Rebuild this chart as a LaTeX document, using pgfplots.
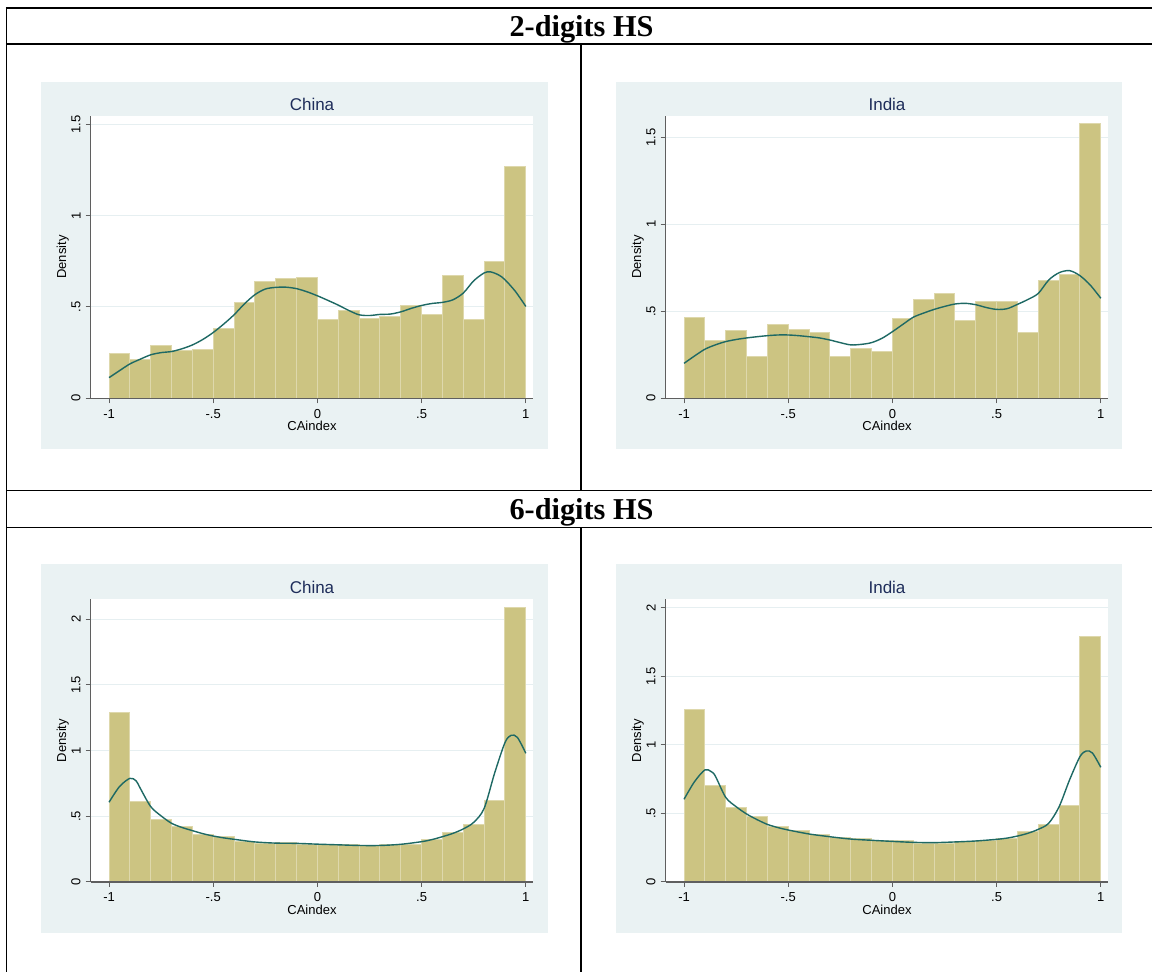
\documentclass[border=0pt]{standalone}
\usepackage{fontspec}
\setmainfont{Liberation Sans}
\newfontfamily\headfont{Liberation Serif}
\usepackage{pgfplots}
\pgfplotsset{compat=1.18}
\definecolor{bgc}{RGB}{234,242,243}
\definecolor{barc}{RGB}{204,196,130}
\definecolor{barl}{RGB}{222,216,172}
\definecolor{kdec}{RGB}{30,105,100}
\definecolor{axc}{RGB}{95,95,95}
\definecolor{gridc}{RGB}{230,239,241}
\definecolor{titc}{RGB}{30,45,90}
\pgfplotsset{
  geom/.style={scale only axis, anchor=south west, width=442.6pt,
    xmin=-1.088, xmax=1.036, ymin=0},
  datapanel/.style={geom, axis line style={draw=none}, xtick=\empty,
    major tick length=0pt, yticklabels={}, ymajorgrids,
    grid style={gridc, line width=1pt},
    axis background/.style={fill=white}},
  framepanel/.style={geom, axis x line*=bottom, axis y line*=left,
    axis line style={-, draw=axc, line width=1.2pt},
    tick align=outside, major tick length=5pt,
    tick style={axc, line width=1pt},
    xtick={-1,-0.5,0,0.5,1}, xticklabels={-1,-.5,0,.5,1},
    tick label style={font=\fontsize{13}{15}\selectfont, inner sep=0pt},
    xticklabel style={anchor=base, yshift=-15pt},
    yticklabel style={xshift=-5pt, rotate=90, anchor=south},
    xlabel={CAindex}, ylabel={Density},
    every axis x label/.style={at={([yshift=-32.5pt]axis description cs:0.5,0)},
      anchor=base, inner sep=0pt, font=\fontsize{13}{15}\selectfont},
    every axis y label/.style={at={([xshift=-24.7pt]axis description cs:0,0.5)},
      rotate=90, anchor=base, inner sep=0pt, font=\fontsize{13}{15}\selectfont},
    every axis title/.style={at={([yshift=5.6pt]axis description cs:0.5,1)},
      anchor=base, inner sep=0pt, text=titc, font=\fontsize{17}{20}\selectfont}},
  bars/.style={ybar interval, fill=barc, draw=barl, line width=1pt},
  kde/.style={smooth, kdec, line width=1.4pt, no marks},
}
\begin{document}
\begin{tikzpicture}
\path[use as bounding box] (0,0) rectangle (1152pt,972pt);
% table rules
\draw[line width=1.6pt] (5.8pt,964pt) -- (1152pt,964pt);
\draw[line width=1.6pt] (5.8pt,927.7pt) -- (1152pt,927.7pt);
\draw[line width=1.6pt] (5.8pt,481.3pt) -- (1152pt,481.3pt);
\draw[line width=1.6pt] (5.8pt,444.3pt) -- (1152pt,444.3pt);
\draw[line width=1.6pt] (6.6pt,964.8pt) -- (6.6pt,0pt);
\draw[line width=1.6pt] (581.2pt,927.7pt) -- (581.2pt,481.3pt);
\draw[line width=1.6pt] (581.2pt,444.3pt) -- (581.2pt,0pt);
\node[anchor=base, inner sep=0pt] at (581.5pt,935.4pt) {\headfont\bfseries\fontsize{30.3}{36}\selectfont 2-digits HS};
\node[anchor=base, inner sep=0pt] at (581.5pt,452pt) {\headfont\bfseries\fontsize{30.3}{36}\selectfont 6-digits HS};
% graph regions
\fill[bgc] (41pt,522.7pt) rectangle (548pt,890.3pt);
\fill[bgc] (616pt,522.7pt) rectangle (1121.7pt,890.3pt);
\fill[bgc] (41pt,39.3pt) rectangle (548pt,408pt);
\fill[bgc] (616pt,39.3pt) rectangle (1121.7pt,408pt);

% ---------- 2-digit China
\begin{axis}[datapanel, at={(90.7pt,573.7pt)}, height=282.3pt, ymax=1.545, ytick={0,0.5,1,1.5}]
\addplot[bars] coordinates {(-1,0.247)(-0.9,0.210)(-0.8,0.291)(-0.7,0.260)(-0.6,0.265)(-0.5,0.384)(-0.4,0.523)(-0.3,0.638)(-0.2,0.656)(-0.1,0.662)(0,0.430)(0.1,0.479)(0.2,0.437)(0.3,0.450)(0.4,0.510)(0.5,0.457)(0.6,0.671)(0.7,0.430)(0.8,0.746)(0.9,1.269)(1,1.269)};
\addplot[kde] coordinates {(-1,0.113)(-0.95,0.151)(-0.9,0.188)(-0.85,0.214)(-0.8,0.238)(-0.75,0.250)(-0.7,0.256)(-0.65,0.271)(-0.6,0.292)(-0.55,0.322)(-0.5,0.360)(-0.45,0.406)(-0.4,0.457)(-0.35,0.517)(-0.3,0.567)(-0.25,0.598)(-0.2,0.607)(-0.15,0.608)(-0.1,0.600)(-0.05,0.583)(0,0.561)(0.05,0.536)(0.1,0.510)(0.15,0.481)(0.2,0.457)(0.25,0.453)(0.3,0.459)(0.35,0.461)(0.4,0.473)(0.45,0.492)(0.5,0.508)(0.55,0.519)(0.6,0.525)(0.65,0.539)(0.7,0.576)(0.75,0.643)(0.8,0.686)(0.83,0.692)(0.87,0.675)(0.9,0.649)(0.95,0.585)(1,0.503)};
\end{axis}
\begin{axis}[framepanel, at={(90.7pt,573.7pt)}, height=282.3pt, ymax=1.545,
  ytick={0,0.5,1,1.5}, yticklabels={0,.5,1,1.5}, title={China}]
\end{axis}

% ---------- 2-digit India
\begin{axis}[datapanel, at={(665.7pt,573.7pt)}, height=282.3pt, ymax=1.623, ytick={0,0.5,1,1.5}]
\addplot[bars] coordinates {(-1,0.466)(-0.9,0.331)(-0.8,0.389)(-0.7,0.243)(-0.6,0.425)(-0.5,0.397)(-0.4,0.379)(-0.3,0.243)(-0.2,0.287)(-0.1,0.270)(0,0.458)(0.1,0.567)(0.2,0.603)(0.3,0.448)(0.4,0.559)(0.5,0.559)(0.6,0.379)(0.7,0.678)(0.8,0.713)(0.9,1.577)(1,1.577)};
\addplot[kde] coordinates {(-1,0.201)(-0.95,0.243)(-0.9,0.282)(-0.85,0.307)(-0.8,0.326)(-0.75,0.338)(-0.7,0.347)(-0.65,0.354)(-0.6,0.360)(-0.55,0.364)(-0.5,0.364)(-0.45,0.360)(-0.4,0.354)(-0.35,0.347)(-0.3,0.335)(-0.25,0.320)(-0.2,0.307)(-0.15,0.310)(-0.1,0.320)(-0.05,0.345)(0,0.383)(0.05,0.425)(0.1,0.466)(0.15,0.490)(0.2,0.511)(0.25,0.528)(0.3,0.542)(0.35,0.546)(0.4,0.538)(0.45,0.522)(0.5,0.511)(0.55,0.515)(0.6,0.540)(0.65,0.568)(0.7,0.603)(0.75,0.680)(0.8,0.722)(0.85,0.734)(0.9,0.705)(0.95,0.650)(1,0.575)};
\end{axis}
\begin{axis}[framepanel, at={(665.7pt,573.7pt)}, height=282.3pt, ymax=1.623,
  ytick={0,0.5,1,1.5}, yticklabels={0,.5,1,1.5}, title={India}]
\end{axis}

% ---------- 6-digit China
\begin{axis}[datapanel, at={(90.7pt,90pt)}, height=282.7pt, ymax=2.152, ytick={0,0.5,1,1.5,2}]
\addplot[bars] coordinates {(-1,1.292)(-0.9,0.614)(-0.8,0.472)(-0.7,0.421)(-0.6,0.365)(-0.5,0.345)(-0.4,0.307)(-0.3,0.292)(-0.2,0.302)(-0.1,0.287)(0,0.282)(0.1,0.282)(0.2,0.279)(0.3,0.287)(0.4,0.282)(0.5,0.320)(0.6,0.378)(0.7,0.439)(0.8,0.624)(0.9,2.089)(1,2.089)};
\addplot[kde] coordinates {(-1,0.607)(-0.95,0.726)(-0.9,0.789)(-0.87,0.770)(-0.85,0.713)(-0.8,0.574)(-0.75,0.503)(-0.7,0.447)(-0.65,0.415)(-0.6,0.391)(-0.55,0.368)(-0.5,0.350)(-0.45,0.336)(-0.4,0.325)(-0.3,0.305)(-0.2,0.296)(-0.1,0.294)(0,0.288)(0.1,0.283)(0.2,0.278)(0.3,0.278)(0.4,0.287)(0.5,0.307)(0.55,0.323)(0.6,0.345)(0.65,0.370)(0.7,0.404)(0.75,0.454)(0.8,0.560)(0.85,0.827)(0.9,1.061)(0.93,1.117)(0.96,1.100)(1,0.980)};
\end{axis}
\begin{axis}[framepanel, at={(90.7pt,90pt)}, height=282.7pt, ymax=2.152,
  ytick={0,0.5,1,1.5,2}, yticklabels={0,.5,1,1.5,2}, title={China}]
\end{axis}

% ---------- 6-digit India
\begin{axis}[datapanel, at={(665.7pt,90pt)}, height=282.7pt, ymax=2.061, ytick={0,0.5,1,1.5,2}]
\addplot[bars] coordinates {(-1,1.261)(-0.9,0.702)(-0.8,0.542)(-0.7,0.474)(-0.6,0.406)(-0.5,0.374)(-0.4,0.347)(-0.3,0.326)(-0.2,0.316)(-0.1,0.306)(0,0.301)(0.1,0.282)(0.2,0.282)(0.3,0.296)(0.4,0.306)(0.5,0.316)(0.6,0.367)(0.7,0.418)(0.8,0.561)(0.9,1.791)(1,1.791)};
\addplot[kde] coordinates {(-1,0.603)(-0.95,0.731)(-0.9,0.817)(-0.87,0.805)(-0.85,0.773)(-0.8,0.617)(-0.75,0.549)(-0.7,0.496)(-0.65,0.455)(-0.6,0.420)(-0.55,0.397)(-0.5,0.379)(-0.4,0.350)(-0.3,0.330)(-0.2,0.313)(-0.1,0.304)(0,0.296)(0.1,0.289)(0.2,0.287)(0.3,0.292)(0.4,0.299)(0.5,0.311)(0.55,0.320)(0.6,0.335)(0.65,0.355)(0.7,0.384)(0.75,0.428)(0.8,0.549)(0.85,0.744)(0.9,0.914)(0.93,0.955)(0.96,0.940)(1,0.836)};
\end{axis}
\begin{axis}[framepanel, at={(665.7pt,90pt)}, height=282.7pt, ymax=2.061,
  ytick={0,0.5,1,1.5,2}, yticklabels={0,.5,1,1.5,2}, title={India}]
\end{axis}
\end{tikzpicture}
\end{document}
